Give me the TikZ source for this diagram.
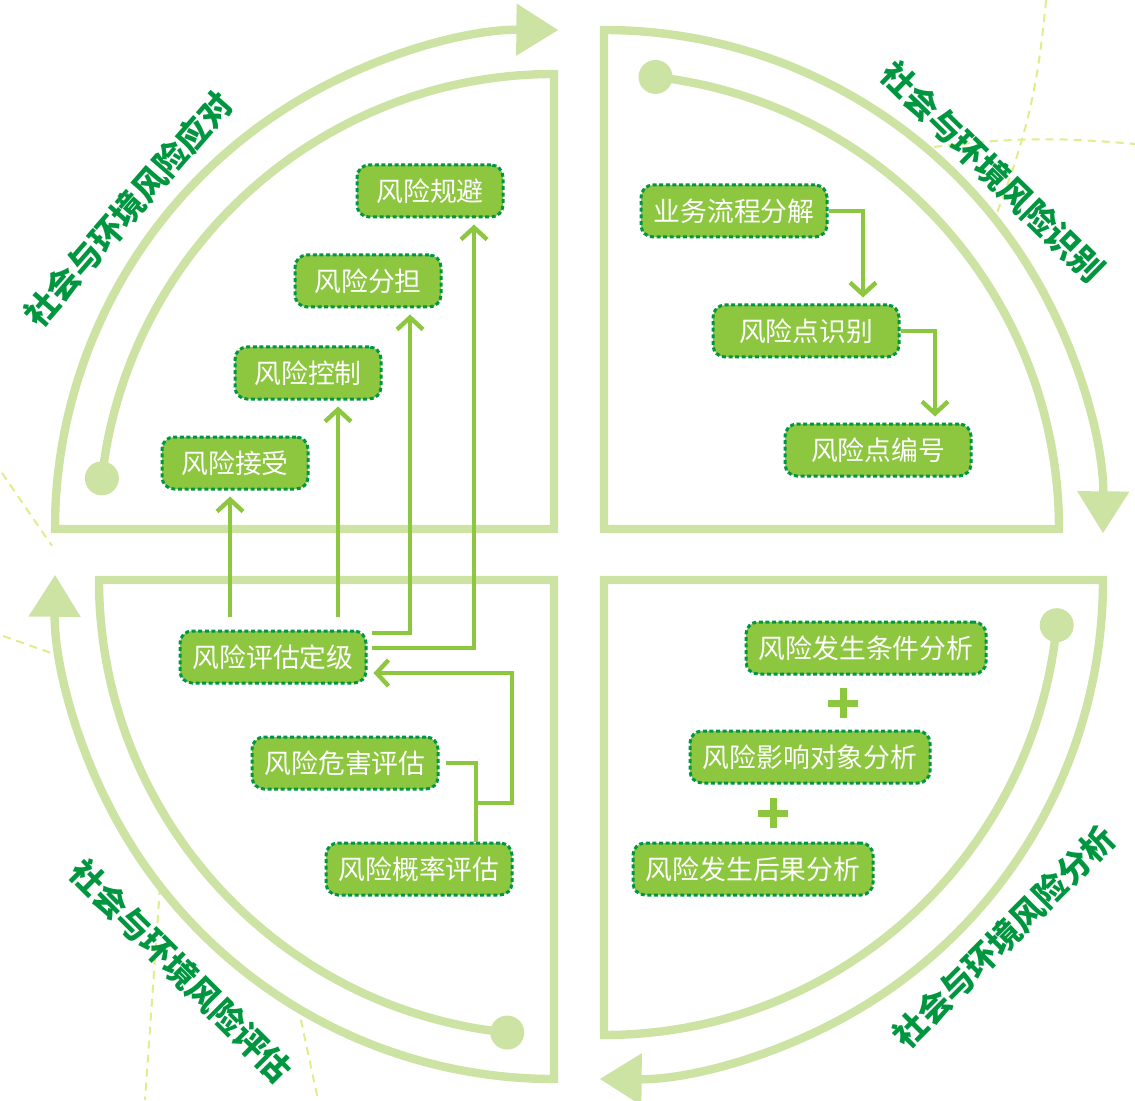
\documentclass[tikz,border=0pt]{standalone}
\usepackage{fontspec}
\setmainfont{Noto Sans CJK SC}
\usepackage{tikz}
\usetikzlibrary{arrows.meta, calc}
\definecolor{ringGreen}{RGB}{205,227,164}
\definecolor{boxGreen}{RGB}{141,198,63}
\definecolor{edgeGreen}{RGB}{0,150,70}
\definecolor{titleGreen}{RGB}{0,150,64}
\definecolor{dashYellow}{RGB}{226,236,140}

\begin{document}
\begin{tikzpicture}[x=0.5pt, y=0.5pt, >={Straight Barb[length=6pt,width=13pt]},
    ring/.style={draw=ringGreen, line width=4.2pt, line join=miter, -{Triangle[length=21pt,width=25pt]}},
    box/.style={draw=edgeGreen, fill=boxGreen, line width=1.5pt, dash pattern=on 2pt off 1.3pt,
        rounded corners=6pt, text=white, minimum height=26pt, inner xsep=4pt,
        font=\fontsize{13.4pt}{16pt}\selectfont},
    boxS/.style={box, minimum width=73pt},
    boxM/.style={box, minimum width=93pt},
    boxL/.style={box, minimum width=120pt},
    link/.style={draw=boxGreen, line width=2.2pt},
    flow/.style={link, ->, shorten >=3pt},
    plus/.style={draw=boxGreen, line width=3.5pt},
    title/.style={text=titleGreen, font=\fontsize{16.5pt}{20pt}\selectfont\bfseries},
    decor/.style={draw=dashYellow, line width=1pt, dash pattern=on 4pt off 3pt}]
    \useasboundingbox (0,0) rectangle (1135,1100);

    \draw[decor] (2,627) -- (52,554);
    \draw[decor] (3,464) -- (57,445);
    \draw[decor] (160,213) -- (145,0);
    \draw[decor] (298,94) -- (318,0);
    \draw[decor] (1046,1100) to[bend left=8] (995,882);
    \draw[decor] (934,953) to[bend left=6] (1135,956);

    \coordinate (oA) at (554,571);
    \coordinate (oB) at (604,571);
    \coordinate (oC) at (604,520);
    \coordinate (oD) at (554,520);
    \coordinate (dA) at ($(oA)+(173.6:227.5pt)$);
    \coordinate (dB) at ($(oB)+(83.5:227.5pt)$);
    \coordinate (dC) at ($(oC)+(-5.7:227.5pt)$);
    \coordinate (dD) at ($(oD)+(-95.9:227.5pt)$);

    \draw[ring] (dA) arc (173.6:90:227.5pt) -- (oA) -- ++(-499,0) arc (180:89.5:249.5pt);
    \draw[ring] (dB) arc (83.5:0:227.5pt) -- (oB) -- ++(0,499) arc (90:-0.5:249.5pt);
    \draw[ring] (dC) arc (-5.7:-90:227.5pt) -- (oC) -- ++(499,0) arc (0:-90.5:249.5pt);
    \draw[ring] (dD) arc (-95.9:-180:227.5pt) -- (oD) -- ++(0,-499) arc (-90:-180.6:249.5pt);
    \foreach \d in {dA,dB,dC,dD}
        \fill[ringGreen] (\d) circle (8.5pt);

    \node[title, rotate=49] (tA) at (128,891) {社会与环境风险应对};
    \node[title, rotate=-44.5] (tB) at (993,928) {社会与环境风险识别};
    \node[title, rotate=45] (tC) at (1004,163) {社会与环境风险分析};
    \node[title, rotate=-45] (tD) at (181,129) {社会与环境风险评估};

    \node[boxS] (avoid) at (430,909) {风险规避};
    \node[boxS] (share) at (368,819) {风险分担};
    \node[boxS] (control) at (308,727) {风险控制};
    \node[boxS] (accept) at (235,637) {风险接受};

    \node[boxM] (grade) at (273,443) {风险评估定级};
    \node[boxM] (harm) at (345,337) {风险危害评估};
    \node[boxM] (prob) at (419,231) {风险概率评估};

    \node[boxM] (split) at (734,889) {业务流程分解};
    \node[boxM] (ident) at (806,769) {风险点识别};
    \node[boxM] (code) at (878,650) {风险点编号};

    \node[boxL] (cond) at (866,452) {风险发生条件分析};
    \node[boxL] (target) at (810,343) {风险影响对象分析};
    \node[boxL] (effect) at (753,231) {风险发生后果分析};

    \coordinate (k1) at (230,483);
    \coordinate (k2) at (338,483);
    \coordinate (k3) at (410,467);
    \coordinate (k4) at (474,452);
    \draw[flow] (k1) -- (k1 |- accept.south);
    \draw[flow] (k2) -- (k2 |- control.south);
    \draw[flow, shorten <=2pt] (grade.east |- k3) -- (k3) -- (k3 |- share.south);
    \draw[flow, shorten <=2pt] (grade.east |- k4) -- (k4) -- (k4 |- avoid.south);

    \coordinate (m1) at (476,337);
    \coordinate (m2) at (476,297);
    \coordinate (m3) at (512,427);
    \draw[link, shorten <=3pt] (harm.east) -| (prob.north -| m1);
    \draw[flow] (m2) -| (m3) -- (m3 -| grade.east);

    \coordinate (t1) at (863,889);
    \coordinate (t2) at (935,769);
    \draw[flow] (split.east) -| (t1 |- ident.north);
    \draw[flow] (ident.east) -| (t2 |- code.north);

    \coordinate (p1) at (843,397);
    \coordinate (p2) at (773,287);
    \draw[plus] (p1) ++(-15,0) -- ++(30,0) (p1) ++(0,-15) -- ++(0,30);
    \draw[plus] (p2) ++(-15,0) -- ++(30,0) (p2) ++(0,-15) -- ++(0,30);
\end{tikzpicture}
\end{document}
